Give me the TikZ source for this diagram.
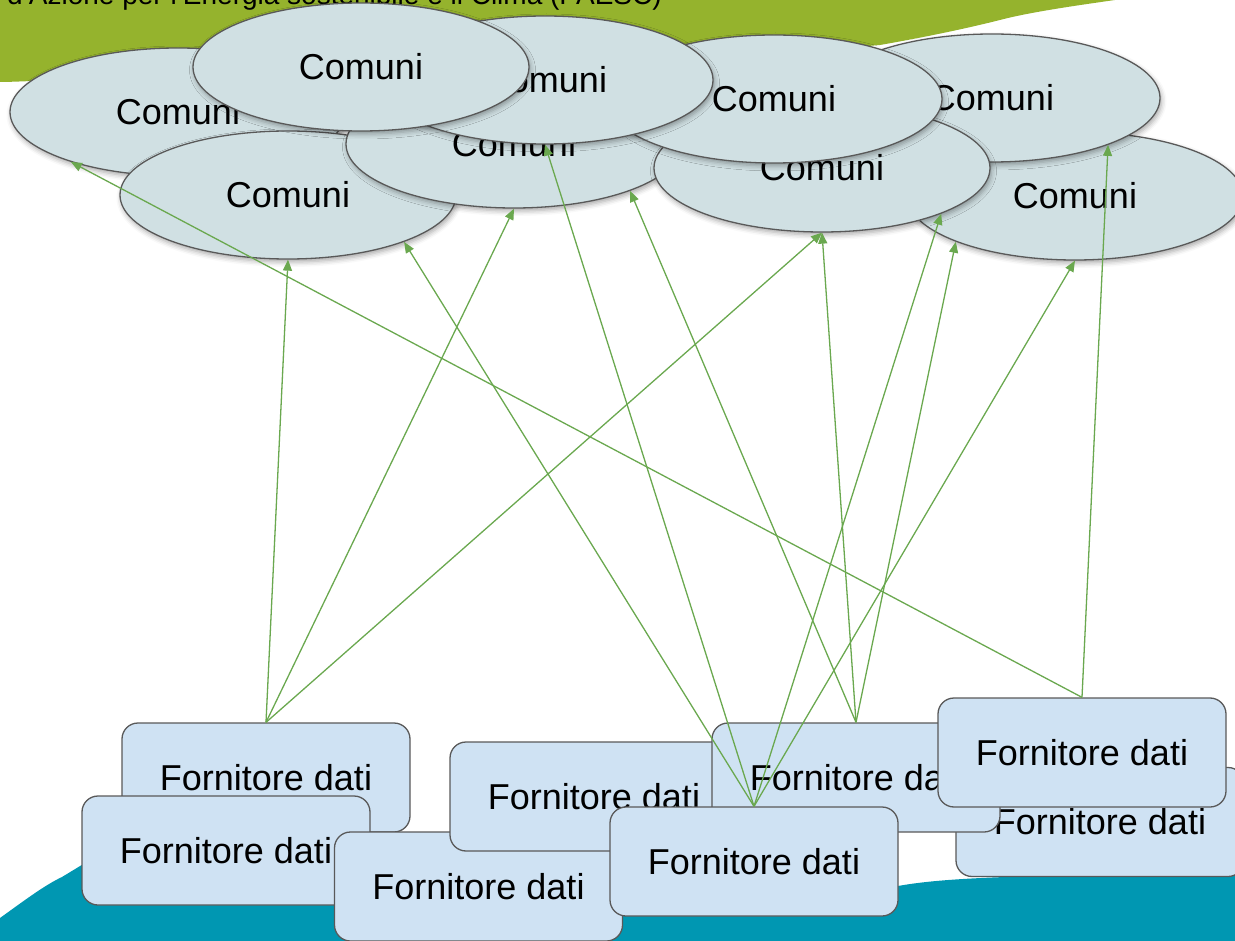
\documentclass[tikz,border=0pt]{standalone}
\usepackage{fontspec}
\setmainfont{Liberation Sans}
\usetikzlibrary{shapes.geometric,arrows.meta,shadows.blur}
\definecolor{blobgreen}{RGB}{149,179,45}
\definecolor{seateal}{RGB}{0,151,178}
\definecolor{ellfill}{RGB}{208,224,227}
\definecolor{boxfill}{RGB}{207,226,243}
\definecolor{edgegray}{RGB}{89,89,89}
\definecolor{arrowgreen}{RGB}{106,168,79}
\begin{document}
\begin{tikzpicture}[x=1pt,y=-1pt,
  comune/.style={ellipse, draw=edgegray, line width=1.3pt, fill=ellfill,
    minimum width=336pt, minimum height=128pt, inner sep=0pt,
    font=\fontsize{36}{43}\selectfont,
    blur shadow={shadow xshift=1.5pt,shadow yshift=-3pt,shadow blur radius=5pt,shadow opacity=35}},
  fornitore/.style={rectangle, rounded corners=16pt, draw=edgegray, line width=1.3pt,
    fill=boxfill, minimum width=288pt, minimum height=109pt, inner sep=0pt,
    font=\fontsize{36}{43}\selectfont},
  link/.style={draw=arrowgreen, line width=1.3pt, -{Triangle[length=11pt,width=9pt]}}]
\useasboundingbox (0,0) rectangle (1235,941);
% background shapes
\fill[blobgreen] (0,0) -- (1115,0) .. controls (1080,5) and (1030,12) .. (1000,20)
  .. controls (960,30) and (920,38) .. (880,45) -- (700,60) -- (400,70) -- (60,80)
  .. controls (30,81) and (10,82) .. (0,82) -- cycle;
\fill[seateal] (0,941) -- (0,918) .. controls (25,900) and (45,885) .. (62,877)
  -- (90,860) -- (600,870) -- (898,886) .. controls (920,882) and (950,879) .. (1005,877)
  -- (1235,872) -- (1235,941) -- cycle;
\node[anchor=base east, font=\fontsize{28}{34}\selectfont, inner sep=0pt] (title) at (662,5)
  {Piano d'Azione per l'Energia sostenibile e il Clima (PAESC)};
% Comuni
\node[comune] (e1) at (178,112) {Comuni};
\node[comune] (e2) at (288,195) {Comuni};
\node[comune] (e3) at (514,144) {Comuni};
\node[comune] (e8) at (1075,196) {Comuni};
\node[comune] (e9) at (992,98) {Comuni};
\node[comune] (e6) at (822,168) {Comuni};
\node[comune] (e7) at (774,99) {Comuni};
\node[comune] (e4) at (545,80) {Comuni};
\node[comune] (e5) at (361,67) {Comuni};
% Fornitori
\node[fornitore] (b1) at (266,777.5) {Fornitore dati};
\node[fornitore] (b2) at (226,850.5) {Fornitore dati};
\node[fornitore] (b3) at (478.5,886.5) {Fornitore dati};
\node[fornitore] (b4) at (594,796.5) {Fornitore dati};
\node[fornitore] (b7) at (1100,822) {Fornitore dati};
\node[fornitore] (b5) at (856,777.5) {Fornitore dati};
\node[fornitore] (b6) at (754,861.5) {Fornitore dati};
\node[fornitore] (b8) at (1082,752.5) {Fornitore dati};
% links
\draw[link] (b1.north) -- (e2.south);
\draw[link] (b1.north) -- (e3.south);
\draw[link] (b1.north) -- (e6.south);
\draw[link] (b6.north) -- (e2.-22);
\draw[link] (b6.north) -- (e4.south);
\draw[link] (b6.north) -- (e6.-21);
\draw[link] (b6.north) -- (e8.south);
\draw[link] (b5.north) -- (e3.-22);
\draw[link] (b5.north) -- (e6.south);
\draw[link] (b5.north) -- (e8.201);
\draw[link] (b8.north) -- (e1.205);
\draw[link] (b8.north) -- (e9.-22);
\end{tikzpicture}
\end{document}
